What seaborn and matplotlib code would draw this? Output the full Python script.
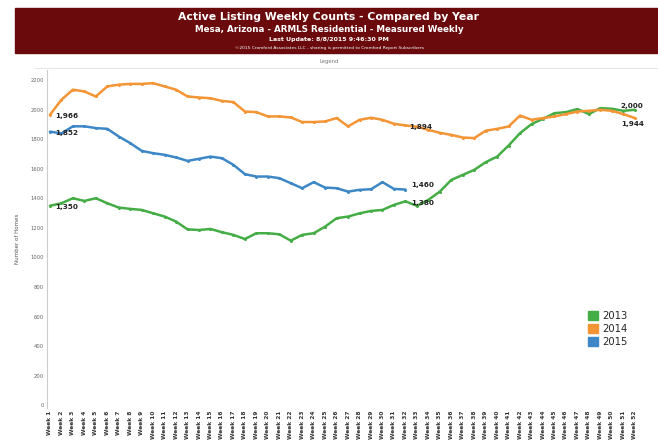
import numpy as np
import pandas as pd
import matplotlib.pyplot as plt
import seaborn as sns
import matplotlib.patches as mpatches

# Weekly active listing counts.
weeks = list(range(1, 53))

counts_2013 = [1350, 1367, 1401, 1383, 1401, 1367, 1338, 1329, 1322, 1299,
               1277, 1243, 1190, 1186, 1193, 1171, 1153, 1125, 1164, 1164,
               1157, 1114, 1153, 1164, 1209, 1266, 1277, 1299, 1315, 1322,
               1356, 1380, 1349, 1390, 1446, 1525, 1559, 1593, 1645, 1683,
               1758, 1842, 1903, 1939, 1977, 1984, 2005, 1971, 2011, 2007,
               1993, 2000]

counts_2014 = [1966, 2068, 2136, 2124, 2090, 2158, 2170, 2175, 2175, 2180,
               2158, 2136, 2090, 2083, 2078, 2060, 2052, 1988, 1984, 1955,
               1955, 1948, 1917, 1917, 1921, 1944, 1888, 1932, 1946, 1932,
               1905, 1894, 1885, 1864, 1844, 1830, 1812, 1808, 1858, 1871,
               1887, 1961, 1932, 1944, 1955, 1971, 1988, 1993, 2000, 1993,
               1971, 1944]

counts_2015 = [1852, 1840, 1888, 1888, 1876, 1871, 1819, 1774, 1722, 1706,
               1695, 1677, 1654, 1668, 1683, 1672, 1627, 1564, 1548, 1548,
               1537, 1503, 1469, 1510, 1473, 1469, 1446, 1458, 1462, 1510,
               1464, 1460]

years = ['2013', '2014', '2015']
colors = ['#45ad45', '#f39435', '#3d87c6']
y_ticks = list(range(0, 2400, 200))
current_week = 32

rows = []
for year, vals in zip(years, [counts_2013, counts_2014, counts_2015]):
    for w, v in zip(weeks, vals):
        rows.append({'week': w, 'count': v, 'year': year})
df = pd.DataFrame(rows)

sns.set_style('white')
plt.rcParams['font.family'] = ['DejaVu Sans']

fig = plt.figure(figsize=(6.58, 4.48), dpi=100)
ax = fig.add_axes([0.0714, 0.089, 0.91, 0.755])

sns.lineplot(
    data=df, x='week', y='count', hue='year',
    palette=dict(zip(years, colors)),
    marker='o', markersize=2.2, markeredgewidth=0,
    linewidth=1.8, legend=False, ax=ax,
    )

ax.set_xlim(0.74, 52.96)
ax.set_ylim(-20, 2270)
ax.set_xticks(weeks)
ax.set_xticklabels([f'Week {w}' for w in weeks], rotation=90, fontsize=4.2, fontweight='bold', color='#333333')
ax.set_yticks(y_ticks)
ax.set_yticklabels([str(t) for t in y_ticks], fontsize=3.8, color='#666666')
ax.tick_params(axis='both', length=0, pad=2)
ax.set_xlabel('')
ax.set_ylabel('Number of Homes', fontsize=4, color='#555555', labelpad=8)

for side in ['top', 'right', 'bottom']:
    ax.spines[side].set_visible(False)
ax.spines['left'].set_color('#cccccc')
ax.spines['left'].set_linewidth(0.8)

# Value labels: first point, current week and last point of each year.
def label(week, value, dx=4, dy=0):
    ax.annotate(f'{value:,}', (week, value), xytext=(dx, dy), textcoords='offset points',
                fontsize=5.2, fontweight='bold', color='#222222', va='center', ha='left')

label(1, counts_2014[0], dy=-1)
label(1, counts_2015[0], dy=-1)
label(1, counts_2013[0], dy=-1)
label(current_week, counts_2014[current_week - 1], dx=3, dy=-1)
label(current_week, counts_2015[current_week - 1], dx=4, dy=3)
label(current_week, counts_2013[current_week - 1], dx=4, dy=-1)
label(52, counts_2013[-1], dx=-10, dy=3)
label(52, counts_2014[-1], dx=-10, dy=-4)

# Legend in the lower right.
handles = [mpatches.Patch(color=c, label=y) for y, c in zip(years, colors)]
ax.legend(handles=handles, loc='lower right', bbox_to_anchor=(0.985, 0.155), frameon=False,
          fontsize=7.2, handlelength=1.0, handleheight=1.0, handletextpad=0.4, labelspacing=0.3)

# Header banner.
fig.patches.append(mpatches.Rectangle((15 / 658, 1 - 53 / 448), 1, 45 / 448,
                                      transform=fig.transFigure, color='#6a0a0c', zorder=0))
fig.text(0.5, 1 - 17 / 448, 'Active Listing Weekly Counts - Compared by Year',
         ha='center', va='center', color='white', fontsize=7.8, fontweight='bold')
fig.text(0.5, 1 - 29 / 448, 'Mesa, Arizona - ARMLS Residential - Measured Weekly',
         ha='center', va='center', color='white', fontsize=6.3, fontweight='bold')
fig.text(0.5, 1 - 40 / 448, 'Last Update: 8/8/2015 9:46:30 PM',
         ha='center', va='center', color='white', fontsize=4.5, fontweight='bold')
fig.text(0.5, 1 - 48 / 448, '\u00a92015 Cromford Associates LLC - sharing is permitted to Cromford Report Subscribers',
         ha='center', va='center', color='white', fontsize=3.2)
fig.text(0.5, 1 - 61 / 448, 'Legend', ha='center', va='center', color='#777777', fontsize=3.8)
fig.add_artist(plt.Line2D([35 / 658, 1], [1 - 68 / 448, 1 - 68 / 448], color='#e6e6e6', linewidth=0.8))

fig.savefig('out.png', dpi=100)
